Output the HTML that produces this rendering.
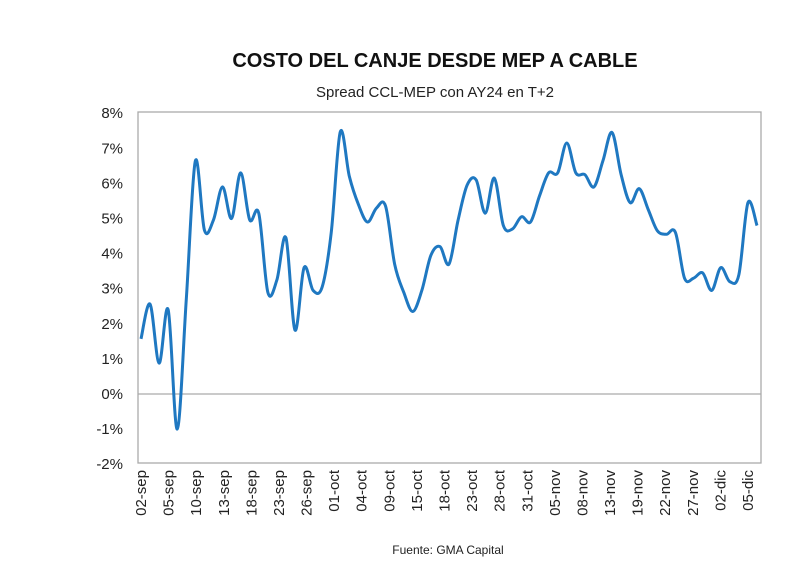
<!DOCTYPE html>
<html><head><meta charset="utf-8">
<style>
body{margin:0;background:#fff;width:800px;height:568px;overflow:hidden;font-family:"Liberation Sans",sans-serif}
</style></head>
<body>
<svg width="800" height="568" id="chart">
<text x="435" y="67" text-anchor="middle" font-size="20" font-weight="bold" fill="#111">COSTO DEL CANJE DESDE MEP A CABLE</text>
<text x="435" y="97" text-anchor="middle" font-size="15" fill="#222">Spread CCL-MEP con AY24 en T+2</text>
<rect x="138" y="112" width="623" height="351" fill="none" stroke="#aaa" stroke-width="1.3"/>
<g id="yax"></g><g id="xax"></g><g id="series"></g>
<text x="448" y="554" text-anchor="middle" font-size="12" fill="#222">Fuente: GMA Capital</text>
</svg>
<script>
const values=[1.57,2.56,0.88,2.4,-1.0,2.7,6.64,4.67,4.96,5.9,5.0,6.3,4.96,5.15,2.9,3.25,4.45,1.82,3.6,2.95,3.05,4.6,7.47,6.2,5.4,4.9,5.3,5.35,3.7,2.9,2.35,2.95,3.95,4.2,3.7,4.95,5.95,6.1,5.15,6.15,4.8,4.7,5.05,4.9,5.65,6.3,6.3,7.15,6.3,6.25,5.9,6.65,7.45,6.25,5.45,5.85,5.25,4.65,4.55,4.6,3.3,3.3,3.45,2.95,3.6,3.2,3.4,5.45,4.8];
const xLabels=["02-sep","05-sep","10-sep","13-sep","18-sep","23-sep","26-sep","01-oct","04-oct","09-oct","15-oct","18-oct","23-oct","28-oct","31-oct","05-nov","08-nov","13-nov","19-nov","22-nov","27-nov","02-dic","05-dic"];
const yTicks=[-2,-1,0,1,2,3,4,5,6,7,8];
const NS="http://www.w3.org/2000/svg";
const y=v=>394-v*35.1;
const x=i=>141+i*(757-141)/(values.length-1);
const xl=j=>141+j*(748-141)/(xLabels.length-1);
const yax=document.getElementById('yax'),xax=document.getElementById('xax'),ser=document.getElementById('series');
yTicks.forEach(t=>{
 const tx=document.createElementNS(NS,'text');
 
 
 tx.setAttribute('x',123);tx.setAttribute('y',y(t)+5);tx.setAttribute('text-anchor','end');tx.setAttribute('font-size','15');tx.setAttribute('fill','#222');
 tx.textContent=t+'%';yax.appendChild(tx);
 if(t===0){const l=document.createElementNS(NS,'line');
 
 
 l.setAttribute('x1',138);l.setAttribute('x2',761);l.setAttribute('y1',y(0));l.setAttribute('y2',y(0));l.setAttribute('stroke','#aaa');l.setAttribute('stroke-width','1.3');yax.appendChild(l);}
});
xLabels.forEach((s,j)=>{
 const tx=document.createElementNS(NS,'text');
 
 
 const px=xl(j)+5;
 tx.setAttribute('transform','translate('+px+',470) rotate(-90)');tx.setAttribute('text-anchor','end');tx.setAttribute('font-size','15');tx.setAttribute('fill','#222');
 tx.textContent=s;xax.appendChild(tx);
});
const P=values.map((v,i)=>[x(i),y(v)]);
let d='M'+P[0][0]+','+P[0][1];
for(let i=0;i<P.length-1;i++){
 const p0=P[Math.max(0,i-1)],p1=P[i],p2=P[i+1],p3=P[Math.min(P.length-1,i+2)];
 const c1=[p1[0]+(p2[0]-p0[0])/6,p1[1]+(p2[1]-p0[1])/6],c2=[p2[0]-(p3[0]-p1[0])/6,p2[1]-(p3[1]-p1[1])/6];
 d+=' C'+c1+' '+c2+' '+p2;
}
const path=document.createElementNS(NS,'path');


path.setAttribute('d',d);path.setAttribute('fill','none');path.setAttribute('stroke','#1f78c1');path.setAttribute('stroke-width','3');path.setAttribute('stroke-linejoin','round');
ser.appendChild(path);
</script>
</body></html>
